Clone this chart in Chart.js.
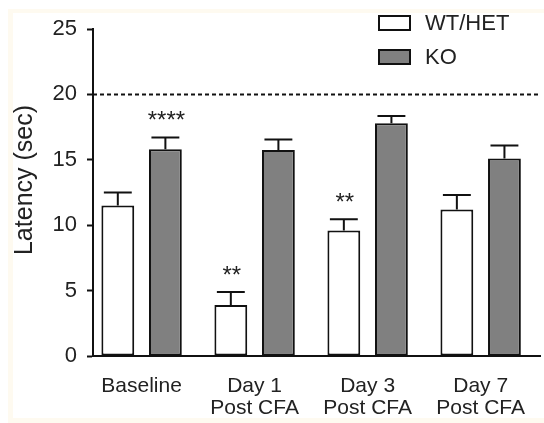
<!DOCTYPE html>
<html>
<head>
<meta charset="utf-8">
<script src="https://cdn.jsdelivr.net/npm/chart.js@4"></script>
<style>
  body { margin: 0; background: #fff; }
</style>
</head>
<body>
<canvas id="myChart" width="544" height="423"></canvas>
<script>
const groups = ["Baseline", ["Day 1", "Post CFA"], ["Day 3", "Post CFA"], ["Day 7", "Post CFA"]];
const wtMean = [11.5, 3.9, 9.6, 11.2];
const wtSem = [1.0, 1.0, 0.85, 1.1];
const koMean = [15.8, 15.75, 17.8, 15.1];
const koSem = [0.9, 0.8, 0.55, 1.0];
const wtStars = ["", "**", "**", ""];
const koStars = ["****", "", "", ""];
const cutoff = 20;

const font = "'Liberation Sans', Arial, sans-serif";
const ink = "#111";

const toPoints = (arr) => arr.map((v, i) => ({ x: i, y: v }));

const extras = {
  id: "extras",
  beforeDraw(chart) {
    const c = chart.ctx;
    c.save();
    c.fillStyle = "#fefaf0";
    c.fillRect(8, 9, 536, 414);
    c.fillStyle = "#fff";
    c.fillRect(13, 13, 531, 405);
    c.restore();
  },
  afterDatasetsDraw(chart) {
    const c = chart.ctx;
    const y = chart.scales.y;
    const area = chart.chartArea;
    c.save();
    // cut-off line
    c.strokeStyle = ink;
    c.lineWidth = 2;
    c.setLineDash([4, 3]);
    c.beginPath();
    c.moveTo(area.left, y.getPixelForValue(cutoff));
    c.lineTo(area.right, y.getPixelForValue(cutoff));
    c.stroke();
    c.setLineDash([]);
    // error bars + stars
    chart.data.datasets.forEach((ds, di) => {
      const meta = chart.getDatasetMeta(di);
      meta.data.forEach((bar, i) => {
        const top = y.getPixelForValue(ds.data[i].y + ds.sem[i]);
        const cw = bar.width * 0.85;
        c.beginPath();
        c.moveTo(bar.x, bar.y);
        c.lineTo(bar.x, top);
        c.moveTo(bar.x - cw / 2, top);
        c.lineTo(bar.x + cw / 2, top);
        c.stroke();
        if (ds.stars[i]) {
          c.fillStyle = "#222";
          c.font = "24px " + font;
          c.textAlign = "center";
          c.textBaseline = "alphabetic";
          c.fillText(ds.stars[i], bar.x + 1, top - 23 + 0.58 * 24);
        }
      });
    });
    // legend
    c.font = "22px " + font;
    c.textAlign = "left";
    c.textBaseline = "middle";
    chart.data.datasets.forEach((ds, di) => {
      const ly = di === 0 ? 16 : 50;
      c.fillStyle = ds.backgroundColor;
      c.fillRect(379, ly, 31, 14);
      c.lineWidth = 2;
      c.strokeStyle = ink;
      c.strokeRect(379, ly, 31, 14);
      c.fillStyle = "#222";
      c.fillText(ds.label, 425, ly + 8);
    });
    // y title
    c.translate(25, 180);
    c.rotate(-Math.PI / 2);
    c.font = "25px " + font;
    c.textAlign = "center";
    c.fillText("Latency (sec)", 0, 0);
    c.restore();
  },
};

new Chart(document.getElementById("myChart"), {
  type: "bar",
  data: {
    datasets: [
      {
        label: "WT/HET",
        data: toPoints(wtMean),
        sem: wtSem,
        stars: wtStars,
        backgroundColor: "#ffffff",
        borderColor: ink,
        borderWidth: 2,
        borderSkipped: false,
      },
      {
        label: "KO",
        data: toPoints(koMean),
        sem: koSem,
        stars: koStars,
        backgroundColor: "#808080",
        borderColor: ink,
        borderWidth: 2,
        borderSkipped: false,
      },
    ],
  },
  options: {
    responsive: false,
    animation: false,
    categoryPercentage: 0.842,
    barPercentage: 0.69,
    layout: { padding: { top: 29, right: 0, left: 0, bottom: 0 } },
    plugins: { legend: { display: false }, tooltip: { enabled: false } },
    scales: {
      x: {
        type: "linear",
        min: -0.43,
        max: 3.53,
        offset: false,
        grid: { display: false, drawTicks: false },
        border: { display: true, color: ink, width: 2 },
        afterBuildTicks: (s) => {
          s.ticks = groups.map((_, i) => ({ value: i }));
        },
        afterFit: (s) => {
          s.height = 67;
        },
        ticks: {
          autoSkip: false,
          maxRotation: 0,
          padding: 19,
          color: "#222",
          font: { family: font, size: 21, lineHeight: 1.05 },
          callback: (v) => groups[v],
        },
      },
      y: {
        min: 0,
        max: 25,
        grid: { drawOnChartArea: false, tickLength: 6, tickColor: ink, tickWidth: 2 },
        border: { display: true, color: ink, width: 2 },
        afterFit: (s) => {
          s.width = 93;
        },
        ticks: {
          stepSize: 5,
          padding: 10,
          color: "#222",
          font: { family: font, size: 22 },
        },
      },
    },
  },
  plugins: [extras],
});
</script>
</body>
</html>
